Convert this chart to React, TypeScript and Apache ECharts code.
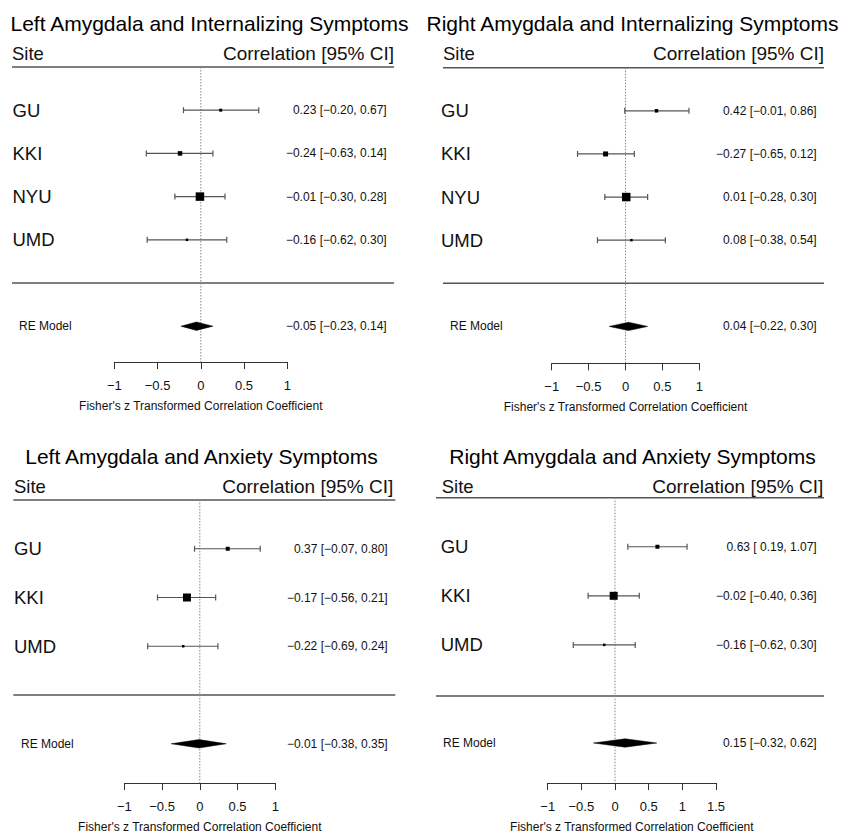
import React, { useEffect, useRef } from "react";
import * as echarts from "echarts";

// ---------- DATA ----------
const panelTitles = [
  "Left Amygdala and Internalizing Symptoms",
  "Right Amygdala and Internalizing Symptoms",
  "Left Amygdala and Anxiety Symptoms",
  "Right Amygdala and Anxiety Symptoms",
];

const p1Sites = ["GU", "KKI", "NYU", "UMD"];
const p1Est = [0.23, -0.24, -0.01, -0.16];
const p1Lower = [-0.2, -0.63, -0.3, -0.62];
const p1Upper = [0.67, 0.14, 0.28, 0.3];
const p1Box = [3, 4.5, 8.5, 2.5];
const p1RE = [-0.05, -0.23, 0.14];

const p2Sites = ["GU", "KKI", "NYU", "UMD"];
const p2Est = [0.42, -0.27, 0.01, 0.08];
const p2Lower = [-0.01, -0.65, -0.28, -0.38];
const p2Upper = [0.86, 0.12, 0.3, 0.54];
const p2Box = [3.5, 5, 8.5, 2.5];
const p2RE = [0.04, -0.22, 0.3];

const p3Sites = ["GU", "KKI", "UMD"];
const p3Est = [0.37, -0.17, -0.22];
const p3Lower = [-0.07, -0.56, -0.69];
const p3Upper = [0.8, 0.21, 0.24];
const p3Box = [4, 8, 2.5];
const p3RE = [-0.01, -0.38, 0.35];

const p4Sites = ["GU", "KKI", "UMD"];
const p4Est = [0.63, -0.02, -0.16];
const p4Lower = [0.19, -0.4, -0.62];
const p4Upper = [1.07, 0.36, 0.3];
const p4Box = [4, 8, 2.5];
const p4RE = [0.15, -0.32, 0.62];

const axisMax = [1, 1, 1, 1.5];
const axisTitle = "Fisher's z Transformed Correlation Coefficient";
const headerLeft = "Site";
const headerRight = "Correlation [95% CI]";
const summaryLabel = "RE Model";

const panels = [
  { sites: p1Sites, est: p1Est, lo: p1Lower, hi: p1Upper, box: p1Box, re: p1RE },
  { sites: p2Sites, est: p2Est, lo: p2Lower, hi: p2Upper, box: p2Box, re: p2RE },
  { sites: p3Sites, est: p3Est, lo: p3Lower, hi: p3Upper, box: p3Box, re: p3RE },
  { sites: p4Sites, est: p4Est, lo: p4Lower, hi: p4Upper, box: p4Box, re: p4RE },
];

// ---------- LAYOUT (pixels) ----------
const layouts = [
  { titleX: 209.5, titleY: 23, headY: 53, siteX: 12, corrRight: 394, lineL: 12, lineR: 394, headLineY: 67, sepY: 283, axisY: 362, gridLeft: 114.3, gridWidth: 173, annotRight: 386.7, reX: 19, siteLabelX: 12.5 },
  { titleX: 632.5, titleY: 23, headY: 53, siteX: 443, corrRight: 824, lineL: 443, lineR: 824, headLineY: 67.7, sepY: 283.3, axisY: 363.3, gridLeft: 551.7, gridWidth: 147.6, annotRight: 816.7, reX: 450, siteLabelX: 441 },
  { titleX: 201.5, titleY: 456, headY: 486, siteX: 14, corrRight: 393.3, lineL: 13.3, lineR: 395.3, headLineY: 500, sepY: 695, axisY: 783, gridLeft: 124.3, gridWidth: 151, annotRight: 387.7, reX: 21, siteLabelX: 14 },
  { titleX: 632.5, titleY: 456, headY: 486, siteX: 441.7, corrRight: 823.3, lineL: 436, lineR: 824, headLineY: 497.7, sepY: 696, axisY: 786, gridLeft: 547.7, gridWidth: 168.3, annotRight: 816.7, reX: 443, siteLabelX: 440.7 },
];

const FONT = '"Liberation Sans", Arial, Helvetica, sans-serif';
const MINUS = "\u2212";

function fmtNum(v: number, padPositive = false): string {
  const s = Math.abs(v).toFixed(2);
  if (v < 0) return MINUS + s;
  return padPositive ? " " + s : s;
}
function annot(e: number, l: number, h: number): string {
  return `${fmtNum(e)} [${fmtNum(l, true)}, ${fmtNum(h)}]`;
}
function fmtTick(v: number): string {
  if (Math.abs(v) < 1e-9) return "0";
  const s = String(Math.round(Math.abs(v) * 100) / 100);
  return v < 0 ? MINUS + s : s;
}

function txt(x: number, y: number, text: string, size: number, align: string, extra: any = {}) {
  return {
    type: "text",
    x,
    y,
    silent: true,
    style: {
      text,
      font: `${size}px ${FONT}`,
      fill: "#111",
      align,
      verticalAlign: "middle",
      textAlign: align,
      textVerticalAlign: "middle",
      ...extra,
    },
  };
}

function buildOption() {
  const grid: any[] = [];
  const xAxis: any[] = [];
  const yAxis: any[] = [];
  const series: any[] = [];
  const graphic: any[] = [];

  panels.forEach((p, pi) => {
    const L = layouts[pi];
    const k = p.sites.length;
    const rowH = (L.sepY - L.headLineY) / (k + 1);
    const yMin = -(L.axisY - L.sepY) / rowH;
    const yMax = k + 1;

    grid.push({ left: L.gridLeft, top: L.headLineY, width: L.gridWidth, height: L.axisY - L.headLineY });
    xAxis.push({
      gridIndex: pi,
      type: "value",
      min: -1,
      max: axisMax[pi],
      interval: 0.5,
      axisLine: { show: true, onZero: false, lineStyle: { color: "#333", width: 1 } },
      axisTick: { show: true, length: 7, lineStyle: { color: "#333", width: 1 } },
      splitLine: { show: false },
      axisLabel: { fontSize: 13, color: "#111", margin: 17, fontFamily: FONT, formatter: (v: number) => fmtTick(v) },
      name: axisTitle,
      nameLocation: "middle",
      nameGap: 38,
      nameTextStyle: { fontSize: 12, color: "#111", fontFamily: FONT },
    });
    yAxis.push({ gridIndex: pi, type: "value", min: yMin, max: yMax, show: false });

    // reference dotted line at 0
    series.push({
      type: "line",
      xAxisIndex: pi,
      yAxisIndex: pi,
      data: [
        [0, yMax],
        [0, yMin],
      ],
      symbol: "none",
      silent: true,
      lineStyle: { color: "#888", width: 1, type: [1.5, 1.5] },
      z: 1,
    });

    // studies
    series.push({
      type: "custom",
      xAxisIndex: pi,
      yAxisIndex: pi,
      silent: true,
      clip: false,
      z: 3,
      encode: { x: [0, 1, 2], y: 3 },
      data: p.sites.map((_, i) => [p.est[i], p.lo[i], p.hi[i], k - i, p.box[i]]),
      renderItem: (params: any, api: any) => {
        const i = params.dataIndex;
        const row = api.value(3);
        const a = api.coord([api.value(1), row]);
        const b = api.coord([api.value(2), row]);
        const c = api.coord([api.value(0), row]);
        const s = api.value(4);
        const ln = { stroke: "#555", lineWidth: 1.2 };
        return {
          type: "group",
          children: [
            { type: "line", shape: { x1: a[0], y1: a[1], x2: b[0], y2: b[1] }, style: ln },
            { type: "line", shape: { x1: a[0], y1: a[1] - 3, x2: a[0], y2: a[1] + 3 }, style: ln },
            { type: "line", shape: { x1: b[0], y1: b[1] - 3, x2: b[0], y2: b[1] + 3 }, style: ln },
            { type: "rect", shape: { x: c[0] - s / 2, y: c[1] - s / 2, width: s, height: s }, style: { fill: "#000" } },
            txt(L.siteLabelX, c[1], p.sites[i], 18.5, "left"),
            txt(L.annotRight, c[1], annot(p.est[i], p.lo[i], p.hi[i]), 12, "right"),
          ],
        };
      },
    });

    // summary diamond
    series.push({
      type: "custom",
      xAxisIndex: pi,
      yAxisIndex: pi,
      silent: true,
      clip: false,
      z: 3,
      encode: { x: [0, 1, 2], y: 3 },
      data: [[p.re[0], p.re[1], p.re[2], -1]],
      renderItem: (params: any, api: any) => {
        const row = api.value(3);
        const a = api.coord([api.value(1), row]);
        const b = api.coord([api.value(2), row]);
        const c = api.coord([api.value(0), row]);
        const h = 4.2;
        return {
          type: "group",
          children: [
            {
              type: "polygon",
              shape: { points: [[a[0], a[1]], [c[0], c[1] - h], [b[0], b[1]], [c[0], c[1] + h]] },
              style: { fill: "#000", stroke: "#000", lineWidth: 0.5 },
            },
            txt(L.reX, c[1], summaryLabel, 12, "left"),
            txt(L.annotRight, c[1], annot(p.re[0], p.re[1], p.re[2]), 12, "right"),
          ],
        };
      },
    });

    // titles, headers, rules
    graphic.push(txt(L.titleX, L.titleY, panelTitles[pi], 21, "center", { fill: "#000" }));
    graphic.push(txt(L.siteX, L.headY, headerLeft, 18.5, "left"));
    graphic.push(txt(L.corrRight, L.headY, headerRight, 19, "right"));
    graphic.push({ type: "line", silent: true, shape: { x1: L.lineL, y1: L.headLineY, x2: L.lineR, y2: L.headLineY }, style: { stroke: "#555", lineWidth: 1.5 } });
    graphic.push({ type: "line", silent: true, shape: { x1: L.lineL, y1: L.sepY, x2: L.lineR, y2: L.sepY }, style: { stroke: "#555", lineWidth: 1.5 } });
  });

  return {
    animation: false,
    backgroundColor: "#fff",
    textStyle: { fontFamily: FONT },
    grid,
    xAxis,
    yAxis,
    series,
    graphic,
  };
}

export default function App() {
  const ref = useRef<HTMLDivElement>(null);
  useEffect(() => {
    if (!ref.current) return;
    const chart = echarts.init(ref.current, undefined, { renderer: "svg" });
    chart.setOption(buildOption() as any);
    return () => chart.dispose();
  }, []);
  return (
    <div
      ref={ref}
      style={{ position: "absolute", left: 0, top: 0, width: 842, height: 834, background: "#fff" }}
    />
  );
}
